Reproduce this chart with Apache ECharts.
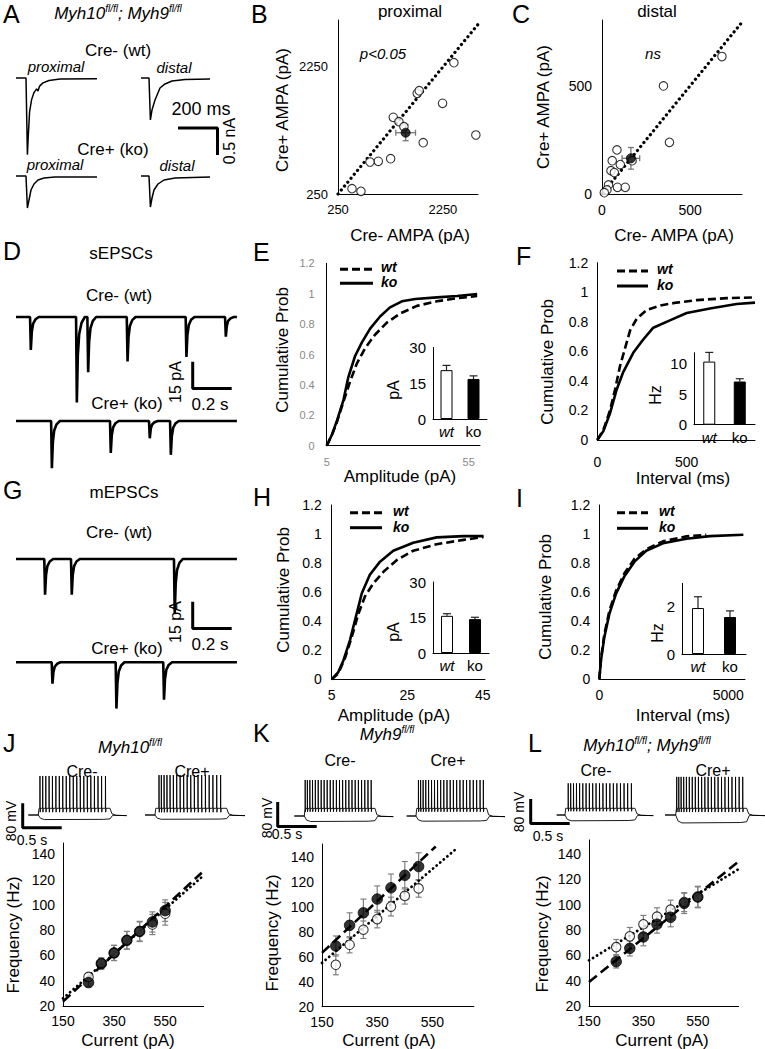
<!DOCTYPE html>
<html><head><meta charset="utf-8">
<script src="https://cdn.jsdelivr.net/npm/echarts@6/dist/echarts.min.js"></script>
<style>html,body{margin:0;padding:0;background:#fff}#c{width:765px;height:1049px}</style>
</head><body><div id="c"></div>
<script>
// ================= DATA =================
// A: evoked AMPA EPSC traces [ms, pA rel. baseline]
const A_WT_PROX = [[0,0],[50,0],[57,-1420],[61,-1100],[68,-620],[78,-400],[90,-270],[103,-200],[110,-240],[118,-150],[135,-90],[165,-45],[220,-20],[405,-15]];
const A_WT_DIST = [[0,0],[40,0],[47,-777],[55,-590],[70,-407],[95,-185],[120,-110],[155,-55],[220,-28],[345,-18]];
const A_KO_PROX = [[0,0],[50,0],[57,-592],[65,-444],[75,-259],[90,-148],[110,-74],[140,-37],[195,-18],[405,-18]];
const A_KO_DIST = [[0,0],[40,0],[47,-574],[55,-407],[65,-259],[85,-148],[115,-74],[170,-37],[345,-18]];
// B: proximal AMPA (Cre- x, Cre+ y)
const B_CREM = [2460,1761,1799,2244,1304,1412,1507,2879,1875,1254,1018,860,517,688];
const B_CREP = [2318,1836,1877,1678,1458,1389,1310,1179,1058,806,765,754,334,292];
const B_MEAN = [1540,1215,188,126];
const B_TICKS = [250,2250];
// C: distal AMPA
const C_CREM = [681,349,383,85,58,104,171,51,70,37,88,132,28,13];
const C_CREP = [636,500,239,204,154,136,154,108,99,42,31,31,19,6];
const C_MEAN = [164,165,50,50];
const C_TICKS = [0,500];
// D / G: event lists [time ms, amplitude pA]
const D_WT_EVENTS = [[72,18.5],[308,48],[366,31],[568,25],[870,22.5],[1072,11]];
const D_KO_EVENTS = [[180,26.5],[482,18],[682,9.7],[790,19]];
const G_WT_EVENTS = [[145,20],[282,20],[810,30.5]];
const G_KO_EVENTS = [[183,12],[511,26],[755,21]];
const EPSC_SHAPE = [[0,0],[4,-1],[9,-0.45],[16,-0.2],[28,-0.07],[45,0]];
// E: sEPSC amplitude cumulative
const E_KO_X = [5,6.8,8.7,10.9,12.6,15,17.4,20.3,23.8,27.3,31.5,36.2,43.8,50.9,58];
const E_KO_Y = [0,0.07,0.17,0.30,0.45,0.59,0.68,0.77,0.85,0.91,0.95,0.965,0.976,0.985,0.998];
const E_WT_X = [5,6.8,8.5,10.9,13.2,15.6,18.5,22,26.2,30.9,36.8,43.8,50.9,58];
const E_WT_Y = [0,0.07,0.15,0.29,0.42,0.54,0.64,0.73,0.81,0.87,0.92,0.95,0.97,0.985];
const E_BARS = [20.5,16.8], E_ERR = [2,1.3];
// F: sEPSC interval cumulative
const F_WT_X = [0,34,71,99,127,155,183,220,276,350,444,556,723,882];
const F_WT_Y = [0,0.068,0.20,0.34,0.50,0.62,0.74,0.82,0.88,0.91,0.93,0.947,0.96,0.965];
const F_KO_X = [0,34,71,108,145,201,257,313,406,500,630,779,882];
const F_KO_Y = [0,0.06,0.18,0.34,0.46,0.59,0.68,0.76,0.81,0.86,0.89,0.92,0.93];
const F_BARS = [10.3,7.05], F_ERR = [1.5,0.45];
// H: mEPSC amplitude cumulative
const H_KO_X = [5,6.75,8.1,9.85,11.2,12.95,15.1,17.8,21.3,26.6,32.8,39.9,45.2];
const H_KO_Y = [0,0.05,0.13,0.27,0.41,0.59,0.72,0.81,0.885,0.94,0.977,0.986,0.986];
const H_WT_X = [5,6.75,8.5,10.3,12.05,13.8,16,18.7,22.2,26.6,32.8,39.9,45.2];
const H_WT_Y = [0,0.04,0.145,0.29,0.45,0.57,0.66,0.74,0.82,0.885,0.93,0.96,0.98];
const H_BARS = [15.7,14.3], H_ERR = [0.9,0.8];
// I: mEPSC interval cumulative
const I_KO_X = [0,65,195,390,650,975,1364,1820,2468,3380,4288,5586];
const I_KO_Y = [0,0.13,0.29,0.45,0.59,0.71,0.81,0.885,0.936,0.968,0.986,0.995];
const I_WT_X = [0,65,195,390,650,975,1364,1820,2468,3380,4150];
const I_WT_Y = [0,0.14,0.31,0.47,0.61,0.73,0.83,0.895,0.95,0.984,0.995];
const I_BARS = [1.95,1.57], I_ERR = [0.48,0.26];
const PROB_TICKS = [0,0.2,0.4,0.6,0.8,1,1.2];
const GROUPS = ['wt','ko'];
// J/K/L: spike trains (ms after step onset) and [onset ms, duration ms, plateau mV, peak mV, hyperpol mV]
const J_CREM_SPIKES = [20,55,95,137,180,224,268,312,357,402,447,492,537,582,627,672,718,764,810,860];
const J_CREP_SPIKES = [50,80,115,152,192,234,277,321,366,411,457,503,550,597,645,693,741,790,840];
const K_CREM_SPIKES = [10,38,70,104,140,177,215,253,292,331,370,410,450,490,530,570,610,651,692,733,774,815,856];
const K_CREP_SPIKES = [30,58,90,124,160,198,236,275,315,355,396,437,478,520,562,604,647,690,733,776,820,862];
const L_CREM_SPIKES = [40,72,108,146,186,227,269,311,354,397,441,485,529,574,619,664,710,756,802,850];
const L_CREP_SPIKES = [12,38,68,101,136,173,211,250,290,331,372,414,456,499,542,586,630,675,720,766,812,858];
const J_CREM_STEP = [128,919,22,128,-15];
const J_CREP_STEP = [128,919,22,131,-14];
const K_CREM_STEP = [128,906,25,118,-18];
const K_CREP_STEP = [119,906,25,118,-17];
const L_CREM_STEP = [106,897,22,104,-19];
const L_CREP_STEP = [137,910,22,125,-26];
const AP_SHAPE = [[0,0],[1.5,1],[4,-0.12],[9,0]];
// F-I curves
const J_I = [250,300,350,400,450,500,550];
const J_KO = [38.5,53.5,62,72,79,86.5,95.5], J_KO_ERR = [3,4.5,6,7,7.5,8,8.5];
const J_WT = [43,54,62,72,79,84.5,93], J_WT_ERR = [2.5,4,6,7,8,8,9];
const J_KO_FIT = [[150,23.5],[693,125.5]], J_WT_FIT = [[150,26],[693,122]];
const K_I = [200,250,300,350,400,450,500];
const K_KO = [68.5,85,95,106,115,125,132], K_KO_ERR = [8,10,11,10.5,11,11,11];
const K_WT = [53.5,69.5,81.5,90,100,108.5,114.5], K_WT_ERR = [8,6.5,7,7,7.5,6.5,7];
const K_KO_FIT = [[150,63],[562,148]], K_WT_FIT = [[150,55],[641,147]];
const L_I = [250,300,350,400,450,500,550];
const L_KO = [55,65.5,74.5,84.5,90,101,106], L_KO_ERR = [5,6,7,7,7.5,8,8.5];
const L_WT = [66.5,75,84.5,90.5,96,102,106], L_WT_ERR = [6,7,7,7,7.5,7.5,8];
const L_KO_FIT = [[150,39],[700,134]], L_WT_FIT = [[150,56],[700,128]];
const FI_X_TICKS = [150,350,550];
const FI_Y_TICKS = [20,40,60,80,100,120,140];

// ================= BUILD =================
const FONT = '"Liberation Sans", Arial, Helvetica, sans-serif';
const grids = [], xAxes = [], yAxes = [], series = [], graphics = [];
const zip = (a, b) => a.map((v, i) => [v, b[i]]);
const fmtTicks = ticks => v => ticks.some(t => Math.abs(t - v) < 1e-6) ? String(parseFloat(v.toFixed(4))) : '';

function addGrid(rect, xa, ya) {
  const i = grids.length;
  grids.push({left: rect[0], top: rect[1], width: rect[2], height: rect[3], containLabel: false});
  xAxes.push(Object.assign({gridIndex: i}, xa));
  yAxes.push(Object.assign({gridIndex: i}, ya));
  return i;
}
const hid = (min, max) => ({type: 'value', min, max, show: false, splitLine: {show: false}});
function axisV(min, max, interval, ticks, o) {
  o = o || {};
  return {type: 'value', min, max, interval, splitLine: {show: false}, axisTick: {show: false},
    axisLine: {show: true, onZero: false, lineStyle: {color: '#000', width: 1}},
    axisLabel: {fontFamily: FONT, fontSize: o.fs || 13, color: o.col || '#000', margin: o.m || 9, formatter: fmtTicks(ticks)}};
}
function catAxis() {
  return {type: 'category', data: GROUPS, axisTick: {show: false},
    axisLine: {show: true, onZero: false, lineStyle: {color: '#000', width: 1}},
    axisLabel: {interval: 0, fontFamily: FONT, fontSize: 15, color: '#000', margin: 5,
      formatter: v => v === 'wt' ? '{i|wt}' : '{n|' + v + '}',
      rich: {i: {fontStyle: 'italic', fontFamily: FONT, fontSize: 15}, n: {fontFamily: FONT, fontSize: 15}}}};
}
function line(gi, data, ls, z) {
  series.push({type: 'line', xAxisIndex: gi, yAxisIndex: gi, data, symbol: 'none', showSymbol: false, clip: false,
    silent: true, animation: false, z: z || 2, lineStyle: Object.assign({color: '#000', width: 1.4}, ls)});
}
const DASH = {type: [8, 4], width: 2.6};
const SOLID = {type: 'solid', width: 2.6};
const DOTS = {type: [0.1, 5], width: 3.2, cap: 'round'};
const FDOTS = {type: [0.1, 4.6], width: 2.8, cap: 'round'};
const FDASH = {type: [10, 5], width: 2.6};

function traceGrid(left, baseY, widthPx, xPerPx, yPerPx, yMin, yMax) {
  return addGrid([left, baseY - yMax / yPerPx, widthPx, (yMax - yMin) / yPerPx], hid(0, widthPx * xPerPx), hid(yMin, yMax));
}
function eventTrace(events, dur) {
  const pts = [[0, 0]];
  events.forEach(([t, a]) => EPSC_SHAPE.forEach(([dt, f]) => pts.push([t + dt, f * a])));
  pts.push([dur, 0]);
  return pts;
}
function stepTraces(spikes, step, total) {
  const [on, dur, plat, peak, hyp] = step;
  const dep = [[0, 0], [on, 0], [on + 10, plat]];
  spikes.forEach(t => AP_SHAPE.forEach(([dt, f]) => dep.push([on + t + dt, plat + f * (peak - plat)])));
  dep.push([on + dur, plat], [on + dur + 25, 4], [on + dur + 80, -1], [total, -2]);
  const hy = [[0, 0], [on, 0], [on + 30, hyp * 0.75], [on + 80, hyp], [on + dur - 80, hyp * 0.95], [on + dur, hyp * 0.85], [on + dur + 35, -1], [total, -2]];
  return [dep, hy];
}
function scaleBar(rect, xLen, yLen, shape) {
  const gi = addGrid(rect, hid(0, xLen), hid(-yLen, 0));
  const pts = shape === 'A' ? [[0, 0], [xLen, 0], [xLen, -yLen]] : [[0, 0], [0, -yLen], [xLen, -yLen]];
  line(gi, pts, {width: 3});
}
function errXY(gi, m, color) {
  series.push({type: 'custom', xAxisIndex: gi, yAxisIndex: gi, z: 2, silent: true, animation: false, data: [m],
    renderItem: (p, api) => {
      const x = api.value(0), y = api.value(1), ex = api.value(2), ey = api.value(3);
      const l = api.coord([x - ex, y]), r = api.coord([x + ex, y]), t = api.coord([x, y + ey]), b = api.coord([x, y - ey]);
      const st = {stroke: color, lineWidth: 1.3}, c = 3;
      const L = (x1, y1, x2, y2) => ({type: 'line', shape: {x1, y1, x2, y2}, style: st});
      return {type: 'group', children: [L(l[0], l[1], r[0], r[1]), L(t[0], t[1], b[0], b[1]),
        L(l[0], l[1] - c, l[0], l[1] + c), L(r[0], r[1] - c, r[0], r[1] + c),
        L(t[0] - c, t[1], t[0] + c, t[1]), L(b[0] - c, b[1], b[0] + c, b[1])]};
    }});
}
function errY(gi, xs, ys, es, color, upOnly, cap) {
  series.push({type: 'custom', xAxisIndex: gi, yAxisIndex: gi, z: 1, silent: true, animation: false,
    data: xs.map((x, i) => [x, ys[i], es[i]]),
    renderItem: (p, api) => {
      const x = api.value(0), y = api.value(1), e = api.value(2);
      const t = api.coord([x, y + e]), b = api.coord([x, upOnly ? y : y - e]);
      const st = {stroke: color, lineWidth: 1.2}, c = cap || 3;
      const L = (x1, y1, x2, y2) => ({type: 'line', shape: {x1, y1, x2, y2}, style: st});
      const ch = [L(t[0], t[1], b[0], b[1]), L(t[0] - c, t[1], t[0] + c, t[1])];
      if (!upOnly) ch.push(L(b[0] - c, b[1], b[0] + c, b[1]));
      return {type: 'group', children: ch};
    }});
}
function scatter(gi, data, open, size, z) {
  series.push({type: 'scatter', xAxisIndex: gi, yAxisIndex: gi, data, symbol: 'circle', symbolSize: size, silent: true, animation: false, z: z || 3,
    itemStyle: open ? {color: '#fff', borderColor: '#000', borderWidth: 1.1} : {color: '#000', borderColor: '#000', borderWidth: 1}});
}
function insetBars(rect, max, interval, ticks, vals, errs) {
  const gi = addGrid(rect, catAxis(), axisV(0, max, interval, ticks, {fs: 15, m: 7}));
  series.push({type: 'bar', xAxisIndex: gi, yAxisIndex: gi, barWidth: 12, silent: true, animation: false, z: 2,
    data: [{value: vals[0], itemStyle: {color: '#fff', borderColor: '#000', borderWidth: 1}},
           {value: vals[1], itemStyle: {color: '#000', borderColor: '#000', borderWidth: 1}}]});
  errY(gi, [0, 1], vals, errs, '#222', true, 4);
}
function txt(x, y, text, o) {
  o = o || {};
  graphics.push({type: 'text', x, y, rotation: o.rot || 0, silent: true, z: 50,
    style: Object.assign({text, fill: o.col || '#000', fontFamily: FONT, fontSize: o.size || 16,
      fontStyle: o.italic ? 'italic' : 'normal', fontWeight: o.bold ? 'bold' : 'normal',
      align: o.align || 'center', verticalAlign: 'middle'}, o.style || {})});
}
function supTitle(x, y, parts) {
  const rich = {i: {fontStyle: 'italic', fontSize: 17, fontFamily: FONT, lineHeight: 20},
                s: {fontStyle: 'italic', fontSize: 10, fontFamily: FONT, verticalAlign: 'top', lineHeight: 20}};
  txt(x, y, parts, {style: {rich}});
}
function legendLines(x1, x2, yDash, ySolid, xText) {
  graphics.push({type: 'line', silent: true, shape: {x1, y1: yDash, x2, y2: yDash}, style: {stroke: '#000', lineWidth: 3, lineDash: [8, 4]}});
  graphics.push({type: 'line', silent: true, shape: {x1, y1: ySolid, x2, y2: ySolid}, style: {stroke: '#000', lineWidth: 3}});
  txt(xText, yDash - 2, 'wt', {bold: true, italic: true, size: 14, align: 'left'});
  txt(xText, ySolid - 1, 'ko', {bold: true, italic: true, size: 14, align: 'left'});
}

// ---- Panel A ----
const A_MS = 5, A_PA = 18.5;
line(traceGrid(16, 78, 82, A_MS, A_PA, -1600, 80), A_WT_PROX, {width: 1.5});
line(traceGrid(141, 78, 70, A_MS, A_PA, -900, 80), A_WT_DIST, {width: 1.5});
line(traceGrid(16, 176, 82, A_MS, A_PA, -700, 80), A_KO_PROX, {width: 1.5});
line(traceGrid(141, 176, 70, A_MS, A_PA, -700, 80), A_KO_DIST, {width: 1.5});
scaleBar([178, 128, 39.5, 27], 200, 500, 'A');

// ---- Panel B ----
{
  const gi = addGrid([338, 20, 140, 174], axisV(250, 2920, 2000, B_TICKS, {m: 9}), axisV(250, 2990, 2000, B_TICKS, {m: 10}));
  line(gi, [[250, 250], [2920, 2920]], DOTS, 1);
  scatter(gi, zip(B_CREM, B_CREP), true, 8.5);
  errXY(gi, B_MEAN, '#777');
  scatter(gi, [B_MEAN.slice(0, 2)], false, 9, 4);
}
// ---- Panel C ----
{
  const gi = addGrid([602, 20, 140, 174], axisV(0, 795, 500, C_TICKS, {m: 9, fs: 14}), axisV(0, 805, 500, C_TICKS, {m: 10, fs: 14}));
  line(gi, [[0, 0], [795, 795]], DOTS, 1);
  scatter(gi, zip(C_CREM, C_CREP), true, 8.5);
  errXY(gi, C_MEAN, '#777');
  scatter(gi, [C_MEAN.slice(0, 2)], false, 9, 4);
}
// ---- Panels D, G traces ----
const EV_MS = 5.128, EV_PA = 0.5618, EV_DUR = 1133;
line(traceGrid(16, 317, 221, EV_MS, EV_PA, -55, 8), eventTrace(D_WT_EVENTS, EV_DUR), {width: 2.6});
line(traceGrid(16, 421, 221, EV_MS, EV_PA, -30, 8), eventTrace(D_KO_EVENTS, EV_DUR), {width: 2.6});
line(traceGrid(16, 559, 221, EV_MS, EV_PA, -35, 8), eventTrace(G_WT_EVENTS, EV_DUR), {width: 2.6});
line(traceGrid(16, 662.3, 221, EV_MS, EV_PA, -30, 8), eventTrace(G_KO_EVENTS, EV_DUR), {width: 2.6});
scaleBar([192.7, 361.7, 39, 26.7], 200, 15, 'L');
scaleBar([192.7, 601.7, 39, 26.7], 200, 15, 'L');

// ---- Cumulative plots ----
{
  const gi = addGrid([326.7, 263.3, 153.3, 182.4], axisV(5, 59, 50, [5, 55], {fs: 11, col: '#888', m: 11}),
    axisV(0, 1.2, 0.2, PROB_TICKS, {fs: 11, col: '#888', m: 12}));
  line(gi, zip(E_WT_X, E_WT_Y), DASH); line(gi, zip(E_KO_X, E_KO_Y), SOLID);
  insetBars([433, 347.5, 54, 71.5], 30, 15, [0, 15, 30], E_BARS, E_ERR);
}
{
  const gi = addGrid([597.3, 262.7, 157.7, 177.3], axisV(0, 882, 500, [0, 500], {m: 15, fs: 14}), axisV(0, 1.2, 0.2, PROB_TICKS, {m: 9, fs: 14}));
  line(gi, zip(F_WT_X, F_WT_Y), DASH); line(gi, zip(F_KO_X, F_KO_Y), SOLID);
  insetBars([694, 352.7, 61, 72], 11.75, 5, [0, 5, 10], F_BARS, F_ERR);
}
{
  const gi = addGrid([331.7, 505, 153.3, 174.3], axisV(5, 45.6, 20, [5, 25, 45], {m: 9, fs: 14}), axisV(0, 1.2, 0.2, PROB_TICKS, {m: 10, fs: 14}));
  line(gi, zip(H_WT_X, H_WT_Y), DASH); line(gi, zip(H_KO_X, H_KO_Y), SOLID);
  insetBars([433, 582, 56, 71], 30, 15, [0, 15, 30], H_BARS, H_ERR);
}
{
  const gi = addGrid([599.3, 505, 145.7, 174.3], axisV(0, 5650, 5000, [0, 5000], {m: 9, fs: 14}), axisV(0, 1.2, 0.2, PROB_TICKS, {m: 9, fs: 14}));
  line(gi, zip(I_WT_X, I_WT_Y), DASH); line(gi, zip(I_KO_X, I_KO_Y), SOLID);
  insetBars([682, 583.3, 64, 70.7], 3, 2, [0, 2], I_BARS, I_ERR);
}

// ---- J/K/L spike traces ----
const SP_MS = 12.82, SP_MV = 3.28;
function spikePair(left, baseY, widthPx, spikes, step) {
  const total = widthPx * SP_MS;
  const [dep, hy] = stepTraces(spikes, step, total);
  const gi = traceGrid(left, baseY, widthPx, SP_MS, SP_MV, -40, step[3] + 10);
  line(gi, dep, {width: 0.9}); line(gi, hy, {width: 0.9});
}
spikePair(28.3, 815, 98.4, J_CREM_SPIKES, J_CREM_STEP);
spikePair(145, 815, 100, J_CREP_SPIKES, J_CREP_STEP);
spikePair(294.3, 816, 99, K_CREM_SPIKES, K_CREM_STEP);
spikePair(406.7, 816, 98.3, K_CREP_SPIKES, K_CREP_STEP);
spikePair(556.7, 815, 96.6, L_CREM_SPIKES, L_CREM_STEP);
spikePair(665, 815, 100, L_CREP_SPIKES, L_CREP_STEP);
scaleBar([22.7, 803.3, 39, 24.4], 500, 80, 'L');
scaleBar([277.7, 802, 39, 24.4], 500, 80, 'L');
scaleBar([530.7, 799, 39, 24.4], 500, 80, 'L');

// ---- J/K/L F-I plots ----
function fiPlot(rect, ymax, xs, ko, koE, wt, wtE, koFit, wtFit) {
  const gi = addGrid(rect, axisV(150, 700, 200, FI_X_TICKS, {fs: 14, m: 8}), axisV(20, ymax, 20, FI_Y_TICKS, {fs: 14, m: 8}));
  line(gi, koFit, FDASH, 2); line(gi, wtFit, FDOTS, 2);
  errY(gi, xs, wt, wtE, '#808080', false, 3);
  errY(gi, xs, ko, koE, '#808080', false, 3);
  scatter(gi, zip(xs, wt), true, 9.5, 3);
  scatter(gi, zip(xs, ko), false, 10.5, 4);
}
fiPlot([63, 843, 140.5, 163], 149, J_I, J_KO, J_KO_ERR, J_WT, J_WT_ERR, J_KO_FIT, J_WT_FIT);
fiPlot([322, 844, 151.8, 162.7], 150, K_I, K_KO, K_KO_ERR, K_WT, K_WT_ERR, K_KO_FIT, K_WT_FIT);
fiPlot([589, 840, 149.6, 166], 151, L_I, L_KO, L_KO_ERR, L_WT, L_WT_ERR, L_KO_FIT, L_WT_FIT);

// ================= TEXT =================
const LET = {size: 25, align: 'left'};
txt(3, 14, 'A', LET); txt(251, 14, 'B', LET); txt(512, 14, 'C', LET);
txt(3, 251, 'D', LET); txt(253, 252, 'E', LET); txt(516, 256, 'F', LET);
txt(3, 490, 'G', LET); txt(253, 497, 'H', LET); txt(516, 498, 'I', LET);
txt(3, 743, 'J', LET); txt(253, 733, 'K', LET); txt(528, 743, 'L', LET);
// A
supTitle(118, 13, '{i|Myh10}{s|fl/fl}{i|; Myh9}{s|fl/fl}');
txt(118, 50, 'Cre- (wt)', {size: 17}); txt(113, 149, 'Cre+ (ko)', {size: 17});
txt(56, 66, 'proximal', {italic: true, size: 15}); txt(174, 67, 'distal', {italic: true, size: 15});
txt(55, 164, 'proximal', {italic: true, size: 15}); txt(177, 165, 'distal', {italic: true, size: 15});
txt(201, 109, '200 ms', {size: 18}); txt(229, 141, '0.5 nA', {rot: Math.PI / 2, size: 16});
// B, C
txt(410, 11, 'proximal', {size: 17}); txt(657, 11, 'distal', {size: 17});
txt(383, 53, 'p<0.05', {italic: true, size: 15}); txt(653, 53, 'ns', {italic: true, size: 15});
txt(282, 110, 'Cre+ AMPA (pA)', {rot: Math.PI / 2, size: 17}); txt(543, 107, 'Cre+ AMPA (pA)', {rot: Math.PI / 2, size: 17});
txt(410, 235, 'Cre- AMPA (pA)', {size: 17}); txt(674, 235, 'Cre- AMPA (pA)', {size: 17});
// D, G
txt(121, 253, 'sEPSCs', {size: 17}); txt(119, 295, 'Cre- (wt)', {size: 17}); txt(127, 403, 'Cre+ (ko)', {size: 17});
txt(175, 382, '15 pA', {rot: Math.PI / 2}); txt(210, 404, '0.2 s', {size: 17});
txt(124, 492, 'mEPSCs', {size: 17}); txt(119, 532, 'Cre- (wt)', {size: 17}); txt(127, 648, 'Cre+ (ko)', {size: 17});
txt(175, 622, '15 pA', {rot: Math.PI / 2}); txt(210, 644, '0.2 s', {size: 17});
// E, F, H, I
txt(282, 350, 'Cumulative Prob', {rot: Math.PI / 2, size: 17}); txt(400, 476, 'Amplitude (pA)', {size: 17});
txt(547, 362, 'Cumulative Prob', {rot: Math.PI / 2, size: 17}); txt(683, 478, 'Interval (ms)', {size: 17});
txt(283, 590, 'Cumulative Prob', {rot: Math.PI / 2, size: 17}); txt(394, 715, 'Amplitude (pA)', {size: 17});
txt(545, 597, 'Cumulative Prob', {rot: Math.PI / 2, size: 17}); txt(683, 715, 'Interval (ms)', {size: 17});
legendLines(340, 373, 269.3, 283.3, 381);
legendLines(617, 648, 271, 286, 657);
legendLines(350, 382, 512.7, 527.7, 393);
legendLines(617, 648, 512.7, 528.3, 659);
txt(393, 390, 'pA', {rot: Math.PI / 2}); txt(655, 395, 'Hz', {rot: Math.PI / 2});
txt(393, 632, 'pA', {rot: Math.PI / 2}); txt(657, 633, 'Hz', {rot: Math.PI / 2});
// J, K, L
supTitle(130, 747, '{i|Myh10}{s|fl/fl}');
supTitle(387, 734, '{i|Myh9}{s|fl/fl}');
supTitle(647, 745, '{i|Myh10}{s|fl/fl}{i|; Myh9}{s|fl/fl}');
txt(82, 771, 'Cre-'); txt(192, 771, 'Cre+');
txt(340, 760, 'Cre-'); txt(448, 760, 'Cre+');
txt(596, 770, 'Cre-'); txt(713, 770, 'Cre+');
txt(11, 821, '80 mV', {rot: Math.PI / 2, size: 14}); txt(32, 840, '0.5 s', {size: 14});
txt(267, 818, '80 mV', {rot: Math.PI / 2, size: 14}); txt(287, 834, '0.5 s', {size: 14});
txt(519, 812, '80 mV', {rot: Math.PI / 2, size: 14}); txt(548, 836, '0.5 s', {size: 14});
txt(13, 935, 'Frequency (Hz)', {rot: Math.PI / 2, size: 17}); txt(128, 1040, 'Current (pA)', {size: 17});
txt(272, 933, 'Frequency (Hz)', {rot: Math.PI / 2, size: 17}); txt(389, 1040, 'Current (pA)', {size: 17});
txt(542, 934, 'Frequency (Hz)', {rot: Math.PI / 2, size: 17}); txt(662, 1040, 'Current (pA)', {size: 17});

const chart = echarts.init(document.getElementById('c'), null, {renderer: 'svg', width: 765, height: 1049});
chart.setOption({animation: false, backgroundColor: '#fff', grid: grids, xAxis: xAxes, yAxis: yAxes, series, graphic: {elements: graphics}});
</script></body></html>
